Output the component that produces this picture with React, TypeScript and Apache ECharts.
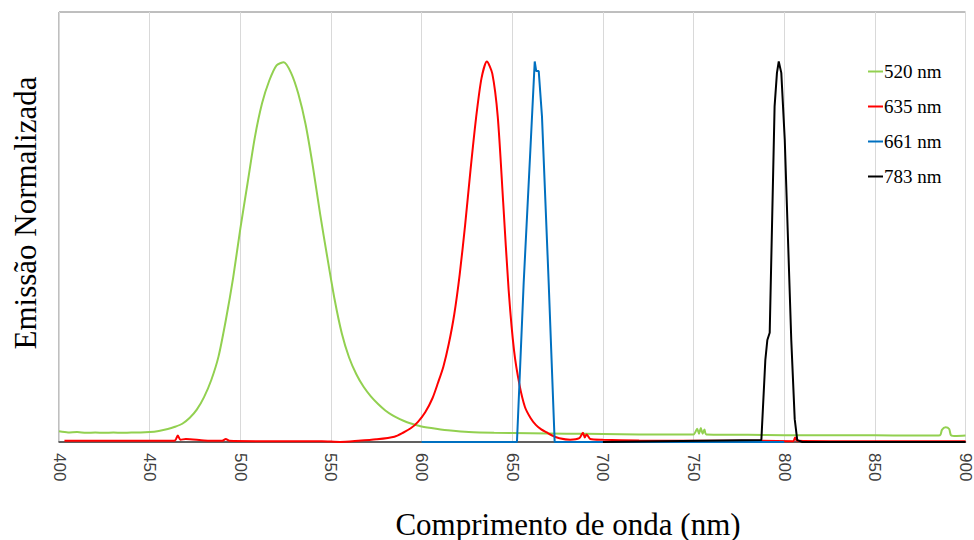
import React, { useEffect, useRef } from "react";
import * as echarts from "echarts";

const seriesNames = ["520 nm", "635 nm", "661 nm", "783 nm"];
const seriesColors = ["#92d050", "#ff0000", "#0070c0", "#000000"];

const xTicks = { min: 400, max: 900, step: 50 };

const green520: [number, number][] = [
  [400, 0.028], [405, 0.025], [410, 0.026], [415, 0.024], [420, 0.025], [425, 0.024],
  [430, 0.025], [435, 0.024], [440, 0.025], [445, 0.025], [450, 0.026], [455, 0.029],
  [460, 0.034], [464, 0.04], [468, 0.048], [472, 0.063], [476, 0.085], [480, 0.118],
  [484, 0.163], [488, 0.225], [492, 0.32], [496, 0.43], [500, 0.56], [504, 0.68],
  [508, 0.8], [512, 0.89], [516, 0.95], [520, 0.99], [524, 0.998], [528, 0.97],
  [532, 0.915], [536, 0.835], [540, 0.725], [544, 0.6], [548, 0.485], [552, 0.375],
  [556, 0.285], [560, 0.222], [564, 0.178], [568, 0.145], [572, 0.12], [576, 0.1],
  [580, 0.083], [584, 0.07], [588, 0.06], [592, 0.052], [596, 0.046], [600, 0.041],
  [608, 0.035], [616, 0.03], [626, 0.026], [640, 0.024], [660, 0.023], [680, 0.022],
  [700, 0.021], [720, 0.02], [740, 0.02], [750, 0.02], [752, 0.035], [753, 0.022],
  [754, 0.037], [755, 0.022], [756, 0.033], [757, 0.02], [780, 0.019], [800, 0.018],
  [820, 0.018], [840, 0.018], [860, 0.017], [880, 0.017], [886, 0.018], [887, 0.032],
  [889, 0.039], [891, 0.034], [892, 0.018], [895, 0.016], [900, 0.017],
];

const red635: [number, number][] = [
  [403, 0.003], [420, 0.003], [440, 0.003], [460, 0.003], [464, 0.004], [465.5, 0.017],
  [467, 0.006], [470, 0.008], [480, 0.004], [490, 0.003], [492, 0.008], [494, 0.003],
  [510, 0.002], [530, 0.002], [545, 0.002], [555, 0.0], [565, 0.003], [575, 0.007],
  [585, 0.014], [590, 0.025], [594, 0.036], [598, 0.053], [602, 0.078], [606, 0.115],
  [609, 0.155], [612, 0.198], [615, 0.258], [618, 0.335], [621, 0.44], [624, 0.57],
  [627, 0.716], [630, 0.85], [633, 0.955], [636, 1.0], [639, 0.968], [642, 0.855],
  [645, 0.63], [648, 0.4], [651, 0.24], [654, 0.15], [657, 0.092], [660, 0.064],
  [663, 0.045], [666, 0.033], [669, 0.025], [672, 0.017], [676, 0.01], [682, 0.006],
  [687, 0.01], [689, 0.024], [690, 0.012], [691, 0.02], [693, 0.008], [700, 0.006],
  [720, 0.004], [750, 0.003], [787, 0.003], [805, 0.002], [806, 0.012], [807, 0.003],
  [830, 0.002], [900, 0.002],
];

const blue661: [number, number][] = [
  [600, 0], [652.6, 0], [656.3, 0.418], [660, 0.768], [662.4, 1.0], [663.2, 0.975],
  [664.6, 0.975], [666.4, 0.855], [670.1, 0.418], [673.4, 0], [700, 0], [800, 0],
];

const black783: [number, number][] = [
  [700, 0], [787.4, 0.005], [789.6, 0.216], [790.7, 0.268], [792, 0.287], [794.7, 0.882],
  [796, 0.97], [797, 1.0], [798.4, 0.97], [800.3, 0.795], [802.1, 0.532], [803.9, 0.268],
  [805.8, 0.06], [807.2, 0.005], [810, 0], [900, 0],
];

const allData = [green520, red635, blue661, black783];
const smoothing = [0.25, 0.25, 0, 0];

const xTitle = "Comprimento de onda (nm)";
const yTitle = "Emissão Normalizada";

const serif = "'Liberation Serif', 'Times New Roman', serif";
const sans = "'Liberation Sans', Arial, sans-serif";

export default function App() {
  const ref = useRef<HTMLDivElement>(null);
  useEffect(() => {
    document.body.style.margin = "0";
    const chart = echarts.init(ref.current!, null, { renderer: "svg" });
    chart.setOption({
      animation: false,
      backgroundColor: "#ffffff",
      grid: {
        left: 59,
        right: 6,
        top: 12,
        bottom: 98,
        show: true,
        borderColor: "#7f7f7f",
        borderWidth: 1,
      },
      xAxis: {
        type: "value",
        min: xTicks.min,
        max: xTicks.max,
        interval: xTicks.step,
        axisLine: { show: true, lineStyle: { color: "#404040", width: 1.5 } },
        axisTick: { show: false },
        splitLine: { show: true, lineStyle: { color: "#d9d9d9", width: 1 } },
        axisLabel: {
          rotate: -90,
          margin: 11,
          fontFamily: sans,
          fontSize: 17,
          color: "#404040",
        },
      },
      yAxis: {
        type: "value",
        min: 0,
        max: 1.13,
        axisLine: { show: false },
        axisTick: { show: false },
        axisLabel: { show: false },
        splitLine: { show: false },
      },
      legend: {
        orient: "vertical",
        left: 868,
        top: 62,
        padding: 0,
        itemWidth: 15,
        itemHeight: 2,
        itemGap: 16,
        icon: "rect",
        textStyle: { fontFamily: serif, fontSize: 19, color: "#000", padding: [0, 0, 0, -4] },
        data: seriesNames,
      },
      graphic: [
        {
          type: "text",
          x: 568,
          y: 524,
          style: {
            text: xTitle,
            font: `31px ${serif}`,
            fill: "#000",
            textAlign: "center",
            textVerticalAlign: "middle",
          },
        },
        {
          type: "text",
          x: 25,
          y: 213,
          rotation: Math.PI / 2,
          style: {
            text: yTitle,
            font: `31px ${serif}`,
            fill: "#000",
            textAlign: "center",
            textVerticalAlign: "middle",
          },
        },
      ],
      series: seriesNames.map((name, i) => ({
        name,
        type: "line",
        data: allData[i],
        showSymbol: false,
        symbol: "none",
        smooth: smoothing[i],
        lineStyle: { color: seriesColors[i], width: 2 },
        itemStyle: { color: seriesColors[i] },
      })),
    });
    return () => chart.dispose();
  }, []);
  return <div ref={ref} style={{ width: 974, height: 540 }} />;
}
